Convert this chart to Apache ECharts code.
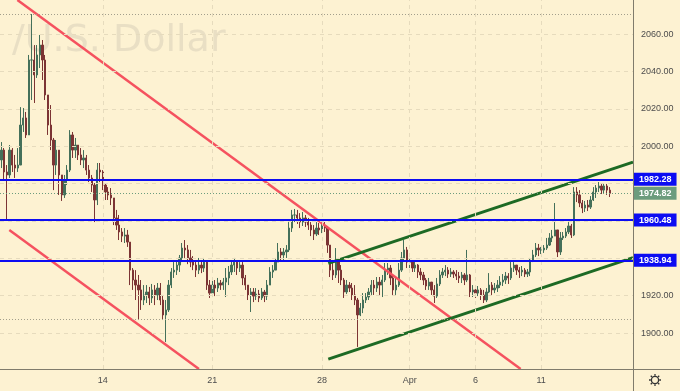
<!DOCTYPE html>
<html><head><meta charset="utf-8">
<script src="https://cdn.jsdelivr.net/npm/echarts@6/dist/echarts.min.js"></script>
<style>html,body{margin:0;padding:0;background:#fdf2d2;}#c{width:680px;height:391px;}</style>
</head><body><div id="c"></div>
<script>
// ---- data ----
const tradingDays = ['Mar 7','Mar 8','Mar 9','Mar 10','Mar 11','Mar 14','Mar 15','Mar 16','Mar 17','Mar 18','Mar 21','Mar 22','Mar 23','Mar 24','Mar 25','Mar 28','Mar 29','Mar 30','Mar 31','Apr 1','Apr 4','Apr 5','Apr 6','Apr 7','Apr 8','Apr 11','Apr 12','Apr 13','Apr 14','Apr 15'];
const dayTickText = {'Mar 14':'14','Mar 21':'21','Mar 28':'28','Apr 1':'Apr','Apr 6':'6','Apr 11':'11'};
const candlesPerDay = 8;
const firstDaySkip = 3;
const firstOpen = 1992.6;
const closes = [
1997.9,1986.2,1984.6,1997.9,1989.9,1988.3,1989.9,2011.3,2015.1,2006.0,
2046.1,2046.1,2038.1,2048.8,2054.1,2046.1,2027.4,2011.3,2003.3,1989.9,
1997.9,1984.6,1973.9,1981.9,1987.2,2006.0,1997.9,2000.6,1995.3,1992.6,
1993.7,1987.2,1983.0,1979.2,1971.2,1987.2,1986.2,1979.2,1975.5,1973.9,
1972.3,1961.6,1957.8,1954.1,1951.9,1952.5,1948.7,1933.7,1928.4,1925.7,
1923.1,1917.7,1920.4,1922.0,1918.8,1923.1,1920.4,1924.1,1917.7,1909.7,
1912.4,1925.7,1932.7,1933.7,1936.4,1940.2,1945.5,1944.5,1940.2,1938.0,
1936.4,1933.7,1936.4,1934.8,1938.0,1925.7,1921.4,1925.7,1924.1,1926.8,
1925.7,1927.3,1929.5,1932.7,1936.4,1938.0,1934.8,1936.4,1929.5,1925.7,
1920.4,1922.0,1919.8,1920.9,1918.8,1922.0,1919.8,1925.7,1932.7,1933.7,
1938.0,1943.4,1941.8,1943.4,1944.5,1956.2,1963.2,1963.2,1961.6,1959.4,
1961.6,1959.4,1957.8,1955.2,1953.0,1956.2,1955.2,1957.3,1956.2,1947.1,
1933.7,1931.1,1939.1,1933.7,1928.4,1922.0,1925.7,1924.1,1920.4,1917.7,
1909.7,1913.4,1917.7,1919.3,1922.0,1925.7,1924.1,1927.3,1925.7,1928.4,
1933.7,1934.8,1929.5,1923.1,1925.7,1933.7,1940.2,1944.5,1938.0,1938.0,
1934.8,1936.4,1932.7,1931.1,1928.4,1925.2,1927.3,1923.1,1919.8,1926.3,
1931.1,1932.7,1933.7,1931.6,1932.7,1931.6,1930.5,1929.5,1931.1,1928.4,
1931.1,1922.0,1923.1,1921.4,1923.1,1920.4,1917.7,1922.0,1925.7,1923.1,
1924.1,1925.7,1927.3,1928.4,1930.5,1929.5,1934.8,1936.4,1933.7,1932.7,
1933.7,1931.6,1932.7,1939.1,1941.8,1945.5,1944.5,1944.5,1945.5,1947.1,
1950.9,1951.9,1955.2,1943.4,1950.9,1951.9,1954.1,1957.3,1952.5,1975.5,
1973.9,1969.6,1966.9,1968.5,1967.4,1971.2,1975.5,1977.6,1978.7,1976.5,
1978.7,1976.5,1974.82];
const highs = [
2002.2,1999.0,1989.9,2000.6,1999.0,1995.3,1999.0,2020.9,2020.4,2018.3,
2048.8,2070.7,2054.1,2054.1,2059.5,2056.8,2048.8,2027.4,2022.0,2004.4,
2003.3,1992.6,1984.6,1984.6,1989.9,2008.6,2007.6,2004.4,2000.6,1999.0,
1997.9,1995.3,1989.9,1984.6,1980.3,1991.0,1991.0,1987.2,1980.3,1978.1,
1977.6,1971.2,1965.9,1963.2,1956.2,1956.2,1955.2,1948.7,1934.8,1933.7,
1931.1,1928.4,1925.7,1925.7,1924.7,1926.3,1925.7,1926.8,1926.8,1920.4,
1917.7,1928.4,1934.8,1938.0,1939.1,1941.8,1948.2,1949.8,1947.1,1944.5,
1941.2,1939.1,1940.2,1939.1,1940.2,1938.0,1928.4,1928.4,1928.4,1929.5,
1928.4,1929.5,1934.8,1935.9,1939.1,1940.2,1939.1,1938.0,1938.0,1931.1,
1925.7,1924.1,1924.1,1924.1,1923.1,1924.1,1923.1,1928.4,1935.3,1936.4,
1940.2,1948.2,1945.5,1945.5,1947.1,1959.4,1965.9,1966.4,1965.9,1964.2,
1964.8,1963.2,1961.6,1959.4,1957.8,1959.4,1958.9,1959.4,1959.4,1957.3,
1947.1,1939.1,1945.5,1940.2,1936.4,1929.5,1928.4,1927.3,1926.8,1925.7,
1918.8,1916.1,1921.4,1921.4,1924.1,1928.4,1928.4,1930.0,1930.0,1931.1,
1937.5,1937.5,1936.4,1931.1,1929.5,1937.5,1943.4,1949.8,1946.1,1940.2,
1939.1,1939.1,1936.9,1934.8,1932.7,1929.5,1929.5,1927.3,1925.7,1929.5,
1933.7,1934.8,1936.4,1935.3,1934.8,1933.7,1933.7,1932.7,1932.7,1932.1,
1944.5,1931.6,1925.7,1925.7,1925.2,1924.1,1923.1,1924.1,1932.1,1927.3,
1926.8,1928.4,1930.5,1931.6,1932.7,1932.1,1938.0,1938.0,1935.9,1935.3,
1935.9,1934.8,1934.3,1940.2,1944.5,1948.2,1947.7,1946.1,1947.1,1950.9,
1953.5,1955.2,1969.6,1955.2,1954.1,1954.1,1956.2,1959.4,1958.4,1978.1,
1978.1,1976.5,1971.2,1970.7,1971.2,1973.3,1978.1,1979.2,1980.8,1980.3,
1980.3,1979.8,1978.1];
const lows = [
1988.3,1981.9,1961.0,1983.0,1986.2,1983.0,1986.2,1989.9,2007.6,2004.4,
2006.0,2024.7,2023.1,2036.5,2041.8,2035.4,2024.7,2006.0,1997.9,1976.5,
1984.6,1973.9,1970.7,1972.3,1979.2,1986.2,1993.7,1993.7,1992.6,1989.9,
1988.3,1984.6,1980.8,1975.5,1959.4,1968.5,1980.8,1976.5,1971.2,1971.2,
1968.5,1957.8,1955.2,1949.8,1948.7,1948.2,1946.1,1925.7,1923.1,1917.7,
1907.0,1912.4,1915.0,1916.1,1915.0,1916.1,1915.0,1917.7,1915.0,1907.0,
1895.2,1911.3,1924.1,1929.5,1931.1,1932.7,1938.0,1940.2,1936.9,1935.3,
1933.7,1930.0,1931.6,1932.1,1932.7,1923.1,1918.8,1919.3,1919.8,1922.0,
1923.1,1923.1,1919.3,1925.7,1931.1,1932.7,1931.1,1932.7,1925.7,1923.1,
1917.7,1911.3,1916.6,1917.7,1916.6,1917.7,1916.6,1917.7,1925.7,1929.5,
1933.7,1938.0,1939.1,1939.1,1940.2,1943.4,1954.1,1959.4,1958.4,1956.2,
1957.3,1956.8,1955.2,1951.9,1949.8,1951.9,1952.5,1953.5,1954.1,1942.9,
1930.0,1928.4,1929.5,1926.8,1925.7,1918.8,1920.9,1922.0,1917.7,1915.0,
1892.6,1909.1,1910.7,1916.1,1917.7,1920.4,1920.4,1922.0,1920.4,1919.3,
1927.3,1931.1,1925.7,1920.4,1920.4,1924.7,1932.7,1938.0,1934.8,1934.8,
1932.7,1932.7,1929.5,1928.4,1925.7,1923.1,1923.1,1920.4,1916.1,1918.8,
1925.2,1929.5,1930.5,1929.5,1930.0,1929.5,1928.4,1926.8,1926.8,1925.7,
1927.3,1919.3,1919.3,1918.8,1919.8,1917.7,1916.1,1916.6,1921.4,1920.4,
1921.4,1922.0,1924.1,1925.2,1926.3,1926.3,1928.4,1932.7,1931.1,1929.5,
1930.5,1930.0,1930.0,1930.5,1938.0,1940.7,1941.2,1942.3,1942.9,1944.5,
1946.6,1948.7,1951.9,1940.7,1941.8,1949.8,1950.9,1953.0,1950.9,1951.9,
1970.1,1967.4,1964.2,1964.8,1965.3,1966.4,1970.7,1972.3,1975.5,1974.4,
1974.9,1973.9,1972.8];
const levelPrices = [1982.28, 1960.48, 1938.94];
const dottedRefPrices = [2070.7, 1907.4];
const priceTicks = [1900, 1920, 1940, 1960, 1980, 2000, 2020, 2040, 2060];
const priceTicksHidden = [1940, 1960, 1980];
// trend lines: [candle index, price] end points
const redLines = [[[5.85, 2078.2], [189.5, 1880.8]], [[2.89, 1955.2], [72.1, 1880.8]]];
const greenLines = [[[119.3, 1937.3], [230.5, 1991.5]], [[119.3, 1886.1], [230.5, 1940.4]]];
const yMin = 1880.8, yMax = 2078.2;
const SLOTS = 231;

// ---- build ----
const cats = [];
tradingDays.forEach((d, di) => {
  for (let c = (di === 0 ? firstDaySkip : 0); c < candlesPerDay; c++) cats.push(d + '|' + c);
});
cats.length = SLOTS;
const ohlc = closes.map((c, i) => {
  const o = i === 0 ? firstOpen : closes[i - 1];
  return [o, c, Math.min(lows[i], o, c), Math.max(highs[i], o, c)];
});
const lastPrice = closes[closes.length - 1];
const isLabelCat = v => v.endsWith('|0') && dayTickText[v.split('|')[0]] !== undefined;

const UP = '#44705a', DOWN = '#7c3434';
const BLUE = '#0c0cf2', CUR = '#6c9c7d';
const GRIDC = '#e6dbbd';
const FONT = 'Liberation Sans';

const boxLabel = (txt, bg) => ({
  show: true, position: 'end', distance: 1, formatter: txt,
  backgroundColor: bg, color: '#fff', fontFamily: FONT, fontSize: 9, fontWeight: 'bold',
  padding: [2, 5, 1, 5], lineHeight: 10
});

const series = [
  { type: 'line', data: [], z: 1, silent: true,
    markLine: { symbol: ['none', 'none'], silent: true, animation: false, label: { show: false },
      lineStyle: { color: GRIDC, type: [4, 4], width: 1 },
      data: cats.filter(isLabelCat).map(v => ({ xAxis: v }))
        .concat(priceTicks.map(p => ({ yAxis: p }))) } },
  { type: 'candlestick', data: ohlc, barWidth: 1.8, z: 2,
    itemStyle: { color: UP, color0: DOWN, borderColor: UP, borderColor0: DOWN, borderWidth: 1 },
    markLine: { symbol: ['none', 'none'], silent: true, animation: false, precision: 2,
      data: [
        ...dottedRefPrices.map(v => ({ yAxis: v, lineStyle: { color: '#a39f8c', type: [1, 2], width: 1 }, label: { show: false } })),
        { yAxis: lastPrice, lineStyle: { color: CUR, type: [1, 2], width: 1 }, label: boxLabel(lastPrice.toFixed(2), CUR) },
        ...levelPrices.map(v => ({ yAxis: v, lineStyle: { color: BLUE, type: 'solid', width: 2 }, label: boxLabel(v.toFixed(2), BLUE) }))
      ] } }
];
redLines.forEach(l => series.push({ type: 'line', xAxisIndex: 1, data: l, symbol: 'none', z: 3, silent: true,
  lineStyle: { color: '#f5525f', width: 2.5 } }));
greenLines.forEach(l => series.push({ type: 'line', xAxisIndex: 1, data: l, symbol: 'none', z: 3, silent: true,
  lineStyle: { color: '#1d6a24', width: 3 } }));

const gear = [];
for (let k = 0; k < 8; k++) {
  const a = k * Math.PI / 4;
  gear.push({ type: 'line', shape: { x1: 655 + Math.cos(a) * 4.2, y1: 380 + Math.sin(a) * 4.2, x2: 655 + Math.cos(a) * 6, y2: 380 + Math.sin(a) * 6 },
    style: { stroke: '#333', lineWidth: 1.3 } });
}

const chart = echarts.init(document.getElementById('c'), null, { renderer: 'canvas' });
chart.setOption({
  animation: false,
  backgroundColor: '#fdf2d2',
  grid: { left: 0, top: 0, width: 633, height: 369, containLabel: false },
  xAxis: [
    { type: 'category', data: cats, boundaryGap: true,
      axisLine: { show: false }, axisTick: { show: false }, splitLine: { show: false },
      axisLabel: { interval: (i, v) => isLabelCat(v), formatter: v => dayTickText[v.split('|')[0]] || '',
        color: '#4d4d4d', fontFamily: FONT, fontSize: 9, margin: 7 } },
    { type: 'value', min: -0.5, max: SLOTS - 0.5, show: false }
  ],
  yAxis: { type: 'value', position: 'right', min: yMin, max: yMax, splitNumber: 10, scale: true,
    axisLine: { show: false }, axisTick: { show: false }, splitLine: { show: false },
    axisLabel: { margin: 8, color: '#4d4d4d', fontFamily: FONT, fontSize: 9,
      formatter: v => (priceTicks.includes(Math.round(v * 100) / 100) && !priceTicksHidden.includes(v)) ? v.toFixed(2) : '' } },
  series: series,
  graphic: [
    { type: 'text', z: -1, silent: true, style: { text: '/U.S. Dollar', x: 12, y: 41, verticalAlign: 'middle',
      font: '38px "DejaVu Sans"', fill: '#e9dfc4' } },
    { type: 'line', z: 10, shape: { x1: 0, y1: 369.5, x2: 680, y2: 369.5 }, style: { stroke: '#807c6c', lineWidth: 1 } },
    { type: 'line', z: 10, shape: { x1: 633.5, y1: 0, x2: 633.5, y2: 391 }, style: { stroke: '#807c6c', lineWidth: 1 } },
    { type: 'circle', z: 10, shape: { cx: 655, cy: 380, r: 3.6 }, style: { stroke: '#333', fill: 'none', lineWidth: 1.3 } },
    ...gear.map(g => Object.assign({ z: 10 }, g))
  ]
});
</script>
</body></html>
